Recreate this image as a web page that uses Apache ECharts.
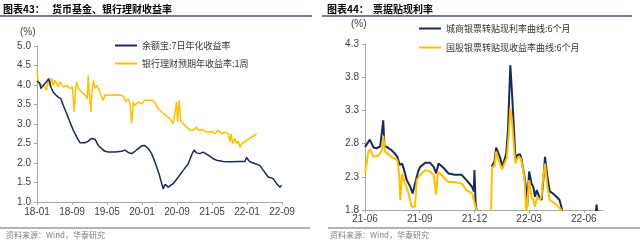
<!DOCTYPE html>
<html><head><meta charset="utf-8">
<script src="https://cdn.jsdelivr.net/npm/echarts@6/dist/echarts.min.js"></script>
<style>html,body{margin:0;padding:0;background:#fff}#c{width:640px;height:243px}</style>
</head><body><div id="c"></div>
<script>
// ---------- Chart 43 data ----------
const leftXTicks = ['18-01','18-09','19-05','20-01','20-09','21-05','22-01','22-09'];
const leftYTicks = [1.0,1.5,2.0,2.5,3.0,3.5,4.0,4.5,5.0];
const yebName = '余额宝:7日年化收益率';
const yebDates = ['2018-01-01','2018-01-21','2018-01-28','2018-02-13','2018-03-07','2018-03-23','2018-04-06','2018-04-22','2018-05-09','2018-05-27','2018-06-15','2018-07-01','2018-07-25','2018-08-17','2018-09-10','2018-10-03','2018-10-26','2018-11-07','2018-11-30','2018-12-23','2019-01-16','2019-01-27','2019-02-08','2019-03-01','2019-03-25','2019-04-17','2019-05-10','2019-06-26','2019-08-12','2019-09-04','2019-09-27','2019-10-20','2019-11-13','2019-12-05','2019-12-29','2020-01-21','2020-02-14','2020-03-07','2020-03-30','2020-04-27','2020-05-27','2020-06-08','2020-07-01','2020-08-05','2020-09-10','2020-10-14','2020-11-18','2020-12-11','2020-12-28','2021-01-16','2021-02-08','2021-03-01','2021-04-05','2021-05-10','2021-06-03','2021-07-18','2021-09-04','2021-11-13','2021-12-17','2021-12-29','2022-01-21','2022-02-26','2022-03-30','2022-04-23','2022-05-27','2022-07-01','2022-07-25','2022-08-17','2022-08-29'];
const yebValues = [4.10,4.04,3.91,3.99,4.09,4.16,3.95,3.82,3.75,3.69,3.65,3.48,3.27,3.05,2.84,2.67,2.52,2.47,2.52,2.56,2.63,2.67,2.61,2.45,2.37,2.30,2.28,2.28,2.30,2.33,2.27,2.24,2.30,2.37,2.44,2.45,2.37,2.24,2.03,1.73,1.34,1.45,1.38,1.47,1.64,1.81,1.98,2.20,2.33,2.26,2.24,2.28,2.20,2.11,2.07,2.04,2.03,2.04,2.04,2.14,2.03,1.98,1.94,1.81,1.64,1.60,1.47,1.38,1.43];
const wmpName = '银行理财预期年收益率:1周';
const wmpDates = ['2018-01-01','2018-01-10','2018-02-03','2018-02-24','2018-03-07','2018-03-18','2018-03-30','2018-04-11','2018-04-22','2018-05-04','2018-05-27','2018-06-08','2018-07-01','2018-07-25','2018-08-17','2018-09-03','2018-09-17','2018-09-26','2018-10-03','2018-10-14','2018-11-07','2018-11-30','2018-12-16','2018-12-23','2018-12-30','2019-01-11','2019-01-20','2019-01-30','2019-02-08','2019-02-19','2019-03-13','2019-03-25','2019-04-05','2019-04-17','2019-05-10','2019-06-26','2019-08-12','2019-08-30','2019-09-09','2019-09-27','2019-10-09','2019-10-20','2019-11-01','2019-11-13','2019-12-05','2019-12-29','2020-01-21','2020-03-07','2020-03-30','2020-04-22','2020-05-27','2020-06-08','2020-07-13','2020-08-05','2020-08-17','2020-08-29','2020-09-05','2020-09-16','2020-09-26','2020-10-14','2020-11-07','2020-11-30','2020-12-23','2021-01-16','2021-01-27','2021-02-19','2021-03-25','2021-04-29','2021-05-22','2021-06-14','2021-07-08','2021-07-31','2021-08-23','2021-09-04','2021-09-11','2021-09-23','2021-10-09','2021-10-21','2021-11-01','2021-11-13','2021-11-25','2022-03-08'];
const wmpValues = [4.38,4.08,3.99,3.95,3.86,4.16,3.95,4.18,3.99,4.12,3.95,4.08,3.95,3.99,3.91,3.95,3.31,3.91,4.08,3.91,3.82,3.74,3.65,4.25,3.82,3.31,3.91,4.12,3.91,3.99,3.82,3.69,3.61,3.74,3.74,3.75,3.74,3.69,3.56,3.65,3.52,3.01,3.56,3.48,3.56,3.52,3.61,3.61,3.56,3.39,3.27,3.22,3.14,3.01,2.97,3.56,3.05,3.61,3.09,3.01,2.92,2.84,2.84,2.92,2.84,2.86,2.79,2.81,2.75,2.84,2.75,2.79,2.75,2.54,2.75,2.50,2.63,2.50,2.56,2.40,2.50,2.75];

// ---------- Chart 44 data ----------
const rightXTicks = ['21-06','21-09','21-12','22-03','22-06'];
const rightYTicks = [1.8,2.3,2.8,3.3,3.8,4.3];
const cityName = '城商银票转贴现利率曲线:6个月';
const cityDates = ['2021-06-01','2021-06-09','2021-06-15','2021-06-20','2021-06-26','2021-06-29','2021-07-01','2021-07-03','2021-07-07','2021-07-15','2021-07-21','2021-07-25','2021-07-29','2021-08-02','2021-08-04','2021-08-10','2021-08-16','2021-08-20','2021-08-24','2021-08-30','2021-09-02','2021-09-04','2021-09-10','2021-09-18','2021-09-24','2021-09-28','2021-10-02','2021-10-10','2021-10-19','2021-10-30','2021-11-10','2021-11-18','2021-11-27','2021-11-30','2021-12-01','2021-12-03','2021-12-06','2021-12-15','2021-12-30','2022-01-04','2022-01-07','2022-01-10','2022-01-14','2022-01-17','2022-01-21','2022-01-24','2022-01-27','2022-01-31','2022-02-03','2022-02-06','2022-02-08','2022-02-11','2022-02-15','2022-02-17','2022-02-21','2022-02-24','2022-02-26','2022-03-01','2022-03-05','2022-03-08','2022-03-11','2022-03-14','2022-03-18','2022-03-22','2022-03-25','2022-03-28','2022-04-01','2022-04-05','2022-04-10','2022-04-16','2022-04-21','2022-04-24','2022-04-27','2022-05-20','2022-06-20','2022-06-22','2022-06-24'];
const cityValues = [2.75,2.86,2.74,2.73,2.76,2.74,3.15,2.76,2.75,2.70,2.65,2.60,2.48,2.50,2.45,2.25,2.15,2.05,2.20,2.40,2.45,2.43,2.51,2.51,2.45,2.35,2.50,2.44,2.35,2.33,2.33,2.25,2.15,2.08,2.40,1.90,1.70,null,2.45,2.53,2.74,2.73,2.58,2.46,2.55,2.65,3.00,3.98,3.51,2.95,2.55,2.63,2.64,2.58,2.35,2.15,1.85,2.38,2.20,2.15,2.00,2.10,2.00,1.95,2.25,2.60,2.30,2.08,2.05,2.00,1.95,1.85,1.70,null,1.70,1.88,1.70];
const stateName = '国股银票转贴现收益率曲线:6个月';
const stateDates = ['2021-06-01','2021-06-06','2021-06-09','2021-06-15','2021-06-23','2021-06-29','2021-07-01','2021-07-04','2021-07-15','2021-07-25','2021-07-28','2021-07-30','2021-08-02','2021-08-07','2021-08-13','2021-08-18','2021-08-24','2021-08-27','2021-09-02','2021-09-10','2021-09-18','2021-09-24','2021-09-28','2021-10-01','2021-10-10','2021-10-19','2021-10-30','2021-11-10','2021-11-18','2021-11-27','2021-12-04','2021-12-06','2021-12-15','2021-12-29','2021-12-31','2022-01-04','2022-01-07','2022-01-11','2022-01-17','2022-01-21','2022-01-25','2022-01-28','2022-01-31','2022-02-03','2022-02-06','2022-02-08','2022-02-12','2022-02-16','2022-02-19','2022-02-22','2022-02-24','2022-02-25','2022-03-01','2022-03-05','2022-03-08','2022-03-11','2022-03-15','2022-03-19','2022-03-22','2022-03-25','2022-03-28','2022-04-01','2022-04-05','2022-04-13','2022-04-19','2022-04-24','2022-04-26'];
const stateValues = [2.35,2.65,2.72,2.60,2.62,2.70,2.92,2.68,2.60,2.55,2.35,1.95,2.35,2.20,2.05,1.85,1.85,2.25,2.33,2.40,2.38,2.33,2.03,2.38,2.30,2.22,2.22,2.20,2.10,2.05,1.82,1.70,null,1.70,2.45,2.45,2.68,2.55,2.41,2.50,2.58,2.90,3.33,3.10,2.70,2.50,2.60,2.58,2.45,2.25,1.85,1.75,2.25,2.00,1.95,1.85,2.00,1.95,2.00,2.30,2.50,2.15,1.95,1.90,1.85,1.80,1.70];

// month index helper (fractional months since base year-month)
function monthIdx(s, baseY, baseM) {
  const [y, m, d] = s.split('-').map(Number);
  const dim = new Date(y, m, 0).getDate();
  return (y - baseY) * 12 + (m - baseM) + (d - 1) / dim;
}
function pairs(dates, vals, by, bm) {
  return dates.map((d, i) => [monthIdx(d, by, bm), vals[i]]);
}

const NAVY = '#172A5E', GOLD = '#FFC000';
const LBL = {color: '#404040', fontSize: 10, fontFamily: 'Liberation Sans, Arial, sans-serif'};
const AXL = {lineStyle: {color: '#A6A6A6', width: 1}};
const CJK = 'Noto Sans CJK SC, sans-serif';

const chart = echarts.init(document.getElementById('c'), null, {renderer: 'canvas'});
chart.setOption({
  animation: false,
  backgroundColor: '#fff',
  grid: [
    {left: 37, right: 358, top: 46, bottom: 41},
    {left: 365, right: 37, top: 44, bottom: 33}
  ],
  xAxis: [
    {type: 'value', gridIndex: 0, min: 0, max: 56, interval: 8,
     axisLine: AXL, axisTick: {show: true, length: 3, lineStyle: {color: '#A6A6A6'}},
     splitLine: {show: false},
     axisLabel: Object.assign({margin: 5, formatter: v => leftXTicks[Math.round(v / 8)] || ''}, LBL)},
    {type: 'value', gridIndex: 1, min: 0, max: 13.05, interval: 3,
     axisLine: AXL, axisTick: {show: true, length: 3, lineStyle: {color: '#A6A6A6'}},
     splitLine: {show: false},
     axisLabel: Object.assign({margin: 4, showMaxLabel: false, formatter: v => rightXTicks[Math.round(v / 3)] || ''}, LBL)}
  ],
  yAxis: [
    {type: 'value', gridIndex: 0, min: leftYTicks[0], max: leftYTicks[leftYTicks.length - 1], interval: 0.5,
     axisLine: Object.assign({show: true}, AXL), axisTick: {show: true, length: 3, lineStyle: {color: '#A6A6A6'}},
     splitLine: {show: false},
     axisLabel: Object.assign({margin: 6, formatter: v => v.toFixed(1)}, LBL)},
    {type: 'value', gridIndex: 1, min: rightYTicks[0], max: rightYTicks[rightYTicks.length - 1], interval: 0.5,
     axisLine: Object.assign({show: true}, AXL), axisTick: {show: true, length: 3, lineStyle: {color: '#A6A6A6'}},
     splitLine: {show: false},
     axisLabel: Object.assign({margin: 6, formatter: v => v.toFixed(1)}, LBL)}
  ],
  legend: [
    {data: [yebName], left: 110, top: 36, icon: 'rect', itemWidth: 22, itemHeight: 2,
     textStyle: {fontSize: 9, color: '#333', fontFamily: CJK}},
    {data: [wmpName], left: 110, top: 54, icon: 'rect', itemWidth: 22, itemHeight: 2,
     textStyle: {fontSize: 9, color: '#333', fontFamily: CJK}},
    {data: [cityName], left: 414, top: 19, icon: 'rect', itemWidth: 22, itemHeight: 2,
     textStyle: {fontSize: 9, color: '#333', fontFamily: CJK}},
    {data: [stateName], left: 414, top: 38, icon: 'rect', itemWidth: 22, itemHeight: 2,
     textStyle: {fontSize: 9, color: '#333', fontFamily: CJK}}
  ],
  series: [
    {name: yebName, type: 'line', xAxisIndex: 0, yAxisIndex: 0, data: pairs(yebDates, yebValues, 2018, 1),
     showSymbol: false, lineStyle: {color: NAVY, width: 1.5}, itemStyle: {color: NAVY}, z: 3},
    {name: wmpName, type: 'line', xAxisIndex: 0, yAxisIndex: 0, data: pairs(wmpDates, wmpValues, 2018, 1),
     showSymbol: false, lineStyle: {color: GOLD, width: 1.5}, itemStyle: {color: GOLD}, z: 2},
    {name: cityName, type: 'line', xAxisIndex: 1, yAxisIndex: 1, data: pairs(cityDates, cityValues, 2021, 6),
     showSymbol: false, clip: true, lineStyle: {color: NAVY, width: 2}, itemStyle: {color: NAVY}, z: 2},
    {name: stateName, type: 'line', xAxisIndex: 1, yAxisIndex: 1, data: pairs(stateDates, stateValues, 2021, 6),
     showSymbol: false, clip: true, lineStyle: {color: GOLD, width: 2}, itemStyle: {color: GOLD}, z: 3}
  ],
  graphic: [
    {type: 'text', left: 3, top: 4, style: {text: '图表43：', font: 'bold 10px ' + CJK, fill: '#000'}},
    {type: 'text', left: 52, top: 4, style: {text: '货币基金、银行理财收益率', font: 'bold 10px ' + CJK, fill: '#000'}},
    {type: 'line', shape: {x1: 0, y1: 16, x2: 312, y2: 16}, style: {stroke: '#44546A', lineWidth: 1.5}},
    {type: 'text', left: 327, top: 4, style: {text: '图表44：', font: 'bold 10px ' + CJK, fill: '#000'}},
    {type: 'text', left: 373, top: 4, style: {text: '票据贴现利率', font: 'bold 10px ' + CJK, fill: '#000'}},
    {type: 'line', shape: {x1: 322, y1: 16, x2: 632, y2: 16}, style: {stroke: '#44546A', lineWidth: 1.5}},
    {type: 'text', left: 20, top: 27, style: {text: '(%)', font: '10px Liberation Sans, Arial', fill: '#404040'}},
    {type: 'text', left: 351, top: 19, style: {text: '(%)', font: '10px Liberation Sans, Arial', fill: '#404040'}},
    {type: 'line', shape: {x1: 0, y1: 228, x2: 310, y2: 228}, style: {stroke: '#B4B4B4', lineWidth: 2}},
    {type: 'line', shape: {x1: 328, y1: 228, x2: 640, y2: 228}, style: {stroke: '#B4B4B4', lineWidth: 2}},
    {type: 'text', left: 6, top: 231, style: {text: '资料来源：Wind，华泰研究', font: '8px ' + CJK, fill: '#808080'}},
    {type: 'text', left: 330, top: 231, style: {text: '资料来源：Wind，华泰研究', font: '8px ' + CJK, fill: '#808080'}}
  ]
});
</script></body></html>
